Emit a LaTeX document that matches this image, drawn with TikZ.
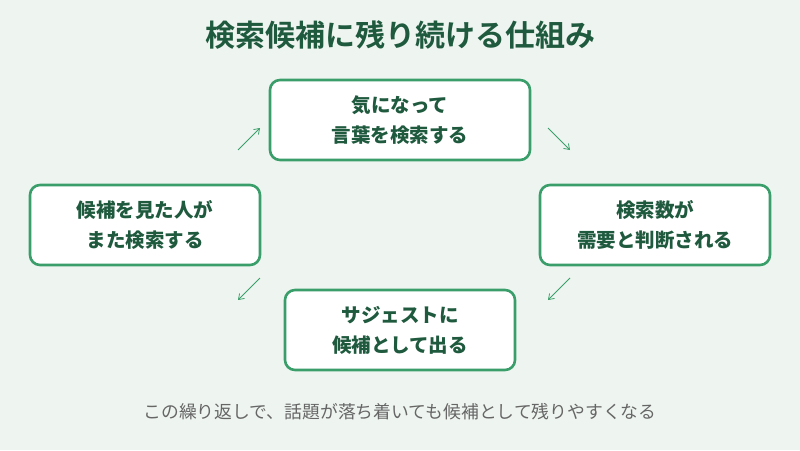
\documentclass[tikz,border=0pt]{standalone}
\usepackage{fontspec}
\newfontfamily\cjk{Noto Sans CJK JP}
\newfontfamily\cjkb{Noto Sans CJK JP}[BoldFont={* Bold}]
\usetikzlibrary{arrows.meta}
\definecolor{bg}{HTML}{EEF5F0}
\definecolor{bd}{HTML}{3A9E6A}
\definecolor{tx}{HTML}{1F5A3E}
\definecolor{gr}{HTML}{666666}
\tikzset{
 box/.style={draw=bd,line width=2.6pt,fill=white,rounded corners=10pt,minimum width=#1,minimum height=80pt,align=center,text=tx,font=\cjk\bfseries\fontsize{19.5}{30}\selectfont},
 arr/.style={draw=bd,line width=0.8pt,-{Straight Barb[length=5pt,width=7pt]}}
}
\begin{document}
\begin{tikzpicture}[x=1pt,y=-1pt]
\fill[bg] (0,0) rectangle (800,450);
\useasboundingbox (0,0) rectangle (800,450);
\node[text=tx,font=\cjkb\bfseries\fontsize{30}{34}\selectfont] (title) at (400,35) {検索候補に残り続ける仕組み};
\node[box=260pt] (top) at (400,120) {気になって\\言葉を検索する};
\node[box=230pt] (right) at (655,225) {検索数が\\需要と判断される};
\node[box=230pt] (bot) at (400,330) {サジェストに\\候補として出る};
\node[box=230pt] (left) at (145,225) {候補を見た人が\\また検索する};
\coordinate (a1) at (238,150); \coordinate (a2) at (260,128);
\coordinate (b1) at (548,128); \coordinate (b2) at (570,150);
\coordinate (c1) at (570,278); \coordinate (c2) at (548,300);
\coordinate (d1) at (260,278); \coordinate (d2) at (238,300);
\draw[arr] (a1) -- (a2);
\draw[arr] (b1) -- (b2);
\draw[arr] (c1) -- (c2);
\draw[arr] (d1) -- (d2);
\node[text=gr,font=\cjk\fontsize{17.8}{20}\selectfont] (cap) at (400,412) {この繰り返しで、話題が落ち着いても候補として残りやすくなる};
\end{tikzpicture}
\end{document}
